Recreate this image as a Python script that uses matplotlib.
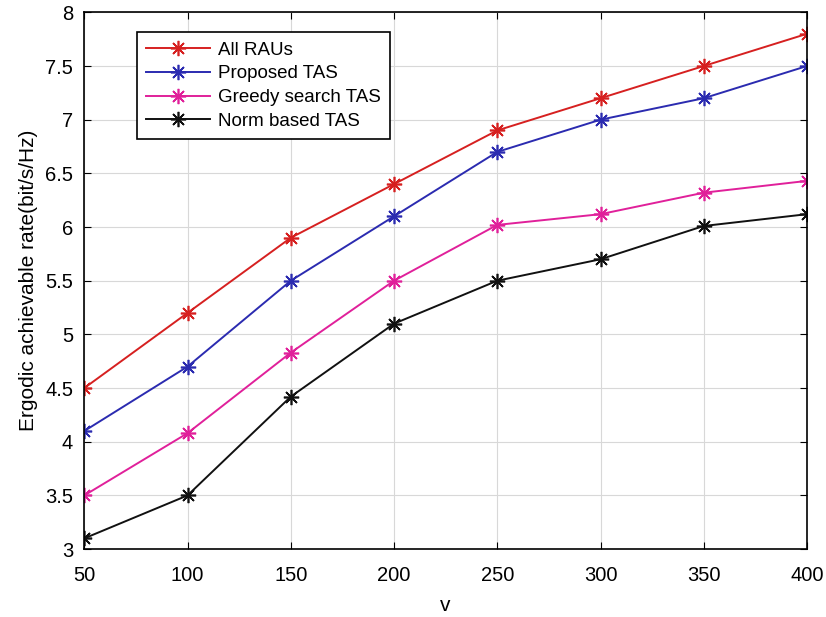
import matplotlib
matplotlib.use('Agg')
import matplotlib.pyplot as plt

plt.rcParams['font.family'] = ['Liberation Sans', 'DejaVu Sans']

# data
v = [50, 100, 150, 200, 250, 300, 350, 400]
all_raus = [4.5, 5.2, 5.9, 6.4, 6.9, 7.2, 7.5, 7.8]
proposed = [4.1, 4.7, 5.5, 6.1, 6.7, 7.0, 7.2, 7.5]
greedy = [3.5, 4.08, 4.83, 5.5, 6.02, 6.12, 6.32, 6.43]
norm_based = [3.1, 3.5, 4.42, 5.1, 5.5, 5.7, 6.01, 6.12]
yticks = [3, 3.5, 4, 4.5, 5, 5.5, 6, 6.5, 7, 7.5, 8]

fig = plt.figure(figsize=(8.26, 6.17), dpi=100)
ax = fig.add_axes([0.102, 0.110, 0.875, 0.870])

star = (8, 2, 0)  # matlab style asterisk
kw = dict(marker=star, markersize=11, markeredgewidth=1.2, linewidth=1.4)
ax.plot(v, all_raus, color='#d62020', label='All RAUs', **kw)
ax.plot(v, proposed, color='#2b2bb0', label='Proposed TAS', **kw)
ax.plot(v, greedy, color='#e0209a', label='Greedy search TAS', **kw)
ax.plot(v, norm_based, color='#111111', label='Norm based TAS', **kw)

ax.set_xlim(50, 400)
ax.set_ylim(3, 8)
ax.set_xticks(v)
ax.set_yticks(yticks)
ax.set_yticklabels([f'{t:g}' for t in yticks])
ax.grid(True, color='#d8d8d8', linewidth=0.8)
ax.tick_params(direction='in', top=True, right=True, length=5, labelsize=14.5)
ax.tick_params(axis='x', pad=12)
ax.tick_params(axis='y', pad=8)
for s in ax.spines.values():
    s.set_linewidth(1.2)

ax.set_xlabel('v', fontsize=15, labelpad=8)
ax.set_ylabel('Ergodic achievable rate(bit/s/Hz)', fontsize=15, labelpad=5)

leg = ax.legend(loc='upper left', bbox_to_anchor=(0.073, 0.963), fontsize=13.5,
                fancybox=False, edgecolor='black', framealpha=1,
                borderaxespad=0, handlelength=3.4, handletextpad=0.4,
                labelspacing=0.35, borderpad=0.5)
leg.get_frame().set_linewidth(1.2)

fig.savefig('out.png', dpi=100)
